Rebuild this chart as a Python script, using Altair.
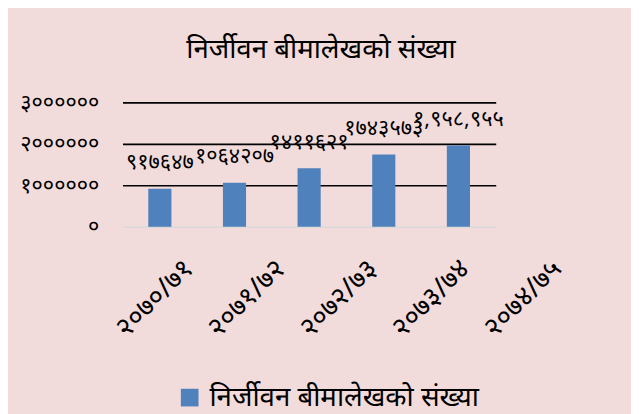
import altair as alt
import pandas as pd

categories = ["२०७०/७१", "२०७१/७२", "२०७२/७३", "२०७३/७४", "२०७४/७५"]
values = [917647, 1064207, 1411621, 1743573, 1958955]
value_labels = ["९१७६४७", "१०६४२०७", "१४११६२१", "१७४३५७३", "१,९५८,९५५"]
series_name = "निर्जीवन बीमालेखको संख्या"
title_text = "निर्जीवन बीमालेखको संख्या"
y_ticks = [0, 1000000, 2000000, 3000000]
y_tick_labels = ["०", "१००००००", "२००००००", "३००००००"]

df = pd.DataFrame({"cat": categories, "val": values, "lab": value_labels, "series": series_name})

FONT = "Noto Sans"

label_expr = " : ".join(
    f"datum.value == {v} ? '{l}'" for v, l in zip(y_ticks, y_tick_labels)
) + " : ''"

xband = alt.Scale(paddingInner=0.69, paddingOuter=0.345)

x = alt.X(
    "cat:N",
    sort=categories,
    title=None,
    scale=xband,
    axis=alt.Axis(labels=False, ticks=False, domain=False, orient="bottom", title=None),
)
y = alt.Y(
    "val:Q",
    title=None,
    scale=alt.Scale(domain=[0, 3000000], nice=False),
    axis=alt.Axis(
        values=y_ticks,
        labelExpr=label_expr,
        labelFontSize=22,
        labelFont=FONT,
        labelColor="black",
        labelPadding=24,
        ticks=False,
        domain=False,
        gridColor={"condition": {"test": "datum.value === 0", "value": "#d9d9d9"}, "value": "black"},
        gridWidth=1.6,
    ),
)

bars = alt.Chart(df).mark_bar(color="#4f81bd").encode(
    x=x,
    y=y,
    color=alt.Color(
        "series:N",
        scale=alt.Scale(range=["#4f81bd"]),
        legend=alt.Legend(
            title=None,
            orient="none",
            legendX=54,
            legendY=285,
            symbolType="square",
            symbolSize=320,
            symbolStrokeWidth=0,
            labelFontSize=28,
            labelFont=FONT,
            labelColor="black",
            labelLimit=500,
            labelOffset=6,
        ),
    ),
)

texts = alt.Chart(df).mark_text(
    fontSize=22, font=FONT, color="black", baseline="middle", dy=-27
).encode(x=alt.X("cat:N", sort=categories, scale=xband, axis=None), y="val:Q", text="lab:N")

# x-axis category labels (spread wider than the bars, as in the reference)
xlabels = alt.Chart(df).mark_point(opacity=0).encode(
    x=alt.X(
        "cat:N",
        sort=categories,
        title=None,
        scale=alt.Scale(type="point", range=[67, 440], padding=0),
        axis=alt.Axis(
            orient="bottom",
            labelAngle=-45,
            labelAlign="right",
            labelBaseline="middle",
            labelFontSize=28,
            labelFont=FONT,
            labelColor="black",
            labelPadding=38,
            ticks=False,
            domain=False,
            grid=False,
        ),
    ),
    y=alt.Y("val:Q"),
)

chart = (
    alt.layer(alt.layer(bars, texts), xlabels)
    .resolve_scale(x="independent")
    .properties(
        width=378,
        height=126,
        autosize=alt.AutoSizeParams(type="none"),
        padding={"left": 116, "top": 93, "right": 137, "bottom": 187},
        title=alt.TitleParams(
            title_text,
            font=FONT,
            fontSize=28,
            fontWeight="normal",
            color="black",
            anchor="middle",
            dx=12,
            offset=28,
        ),
    )
    .configure(background="#f2dcdb")
    .configure_view(stroke=None)
)

chart.save("out.html", embed_options={"renderer": "svg", "actions": False})
